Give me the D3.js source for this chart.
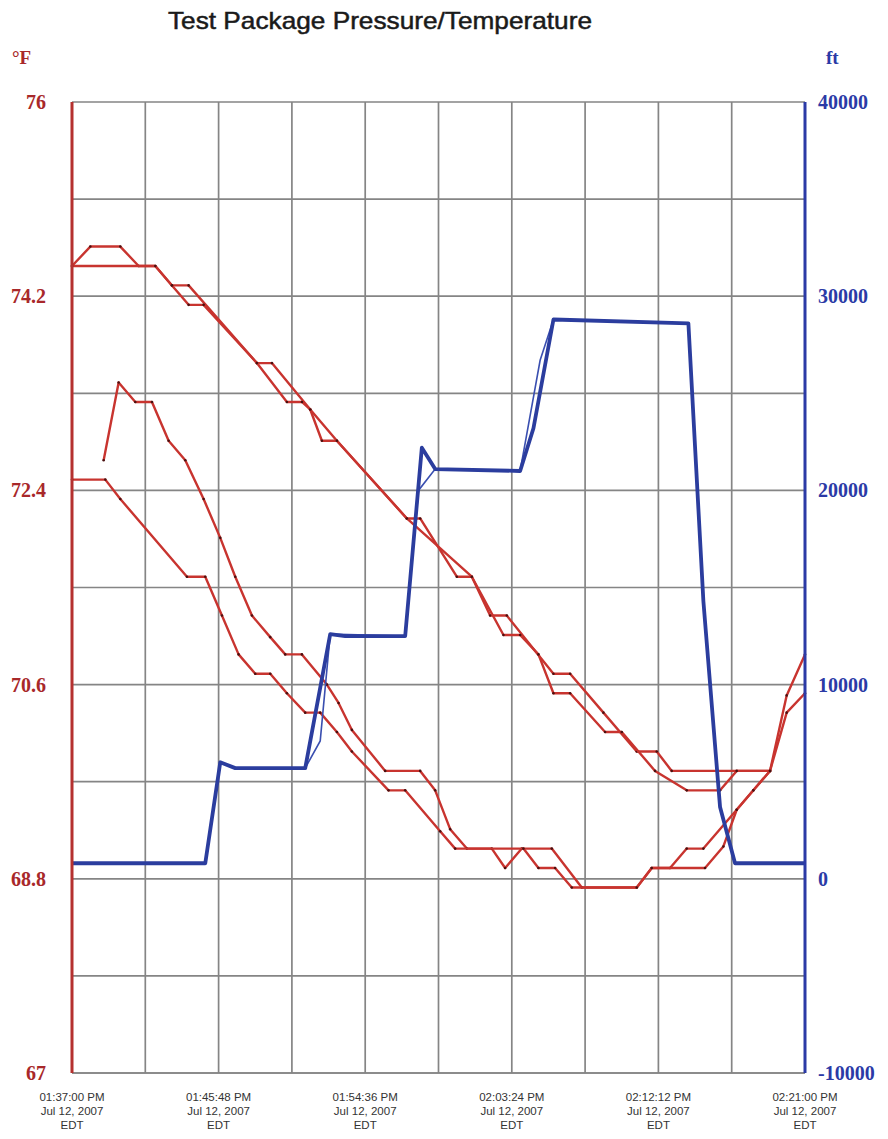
<!DOCTYPE html>
<html>
<head>
<meta charset="utf-8">
<script src="https://cdn.jsdelivr.net/npm/d3@7"></script>
<style>
  body { margin: 0; background: #fff; }
  svg { display: block; }
</style>
</head>
<body>
<svg width="888" height="1139"></svg>
<script>
// time is minutes after 01:37:00 PM, temperatures in °F, altitude in ft
const tempA = [[0,74.48],[1.1,74.66],[2.9,74.66],[4.0,74.48],[5.0,74.48],[6.0,74.30],[7.0,74.30],[11.1,73.58],[12.0,73.58],[14.3,73.15],[15.9,72.86],[20.1,72.14],[20.9,72.14],[23.1,71.60],[24.0,71.60],[25.1,71.24],[26.1,71.24],[28.9,70.70],[29.9,70.70],[31.9,70.34],[33.9,69.98],[35.1,69.98],[36.0,69.80],[41.9,69.80]];
const tempB = [[0,74.48],[5.0,74.48],[6.0,74.30],[7.0,74.12],[7.9,74.12],[11.1,73.58],[12.9,73.22],[13.8,73.22],[14.3,73.15],[15.0,72.86],[15.9,72.86],[20.1,72.14],[24.0,71.60],[25.9,71.06],[26.9,71.06],[28.0,70.88],[28.9,70.52],[29.9,70.52],[32.0,70.16],[33.0,70.16],[35.0,69.80],[36.9,69.62],[38.9,69.62],[39.9,69.80],[41.9,69.80]];
const tempC = [[1.9,72.68],[2.8,73.40],[3.8,73.22],[4.8,73.22],[5.8,72.86],[6.8,72.68],[7.9,72.32],[8.9,71.96],[9.8,71.60],[10.8,71.24],[11.9,71.04],[12.8,70.88],[13.8,70.88],[15.3,70.60],[16.0,70.43],[16.8,70.18],[18.8,69.80],[20.9,69.80],[21.8,69.62],[22.7,69.26],[23.7,69.08],[25.2,69.08],[26.0,68.90],[27.0,69.08],[28.8,69.08],[30.6,68.72],[33.9,68.72],[34.8,68.90],[35.9,68.90],[36.9,69.08],[37.9,69.08],[39.9,69.44],[40.9,69.62],[41.9,69.80],[42.9,70.50],[44,70.88]];
const tempD = [[0,72.50],[2.0,72.50],[2.9,72.32],[6.9,71.60],[8.0,71.60],[9.0,71.24],[10.0,70.88],[11.0,70.70],[11.9,70.70],[12.9,70.52],[14.0,70.34],[14.9,70.34],[15.9,70.16],[16.8,69.98],[19.0,69.62],[20.0,69.62],[22.1,69.24],[23.0,69.08],[27.1,69.08],[28.0,68.90],[29.0,68.90],[30.0,68.72],[33.9,68.72],[34.8,68.90],[38.0,68.90],[39.1,69.10],[39.9,69.44],[40.9,69.62],[41.9,69.80],[42.9,70.34],[44,70.52]];
const altMain = [[0,800],[8.0,800],[8.9,6000],[9.8,5700],[14.0,5700],[15.5,12600],[16.4,12500],[20.0,12500],[21.0,22200],[21.8,21100],[26.9,21000],[27.7,23200],[28.9,28800],[37.0,28600],[37.9,14300],[38.9,3700],[39.8,800],[44,800]];
const altThin = [[0,800],[8.0,800],[8.9,6000],[9.8,5700],[14.0,5700],[14.9,7100],[15.5,12600],[20.0,12500],[20.8,20000],[21.8,21100],[26.9,21000],[28.1,26700],[28.9,28800],[37.0,28600],[37.9,14300],[38.9,3700],[39.8,800],[44,800]];

const tempTicks = [76, 74.2, 72.4, 70.6, 68.8, 67];
const altTicks = [40000, 30000, 20000, 10000, 0, -10000];
const timeTickMinutes = [0, 8.8, 17.6, 26.4, 35.2, 44];

const start = new Date(2007, 6, 12, 13, 37, 0);
const toDate = m => new Date(start.getTime() + m * 60000);

const margin = {top: 102, right: 83, bottom: 66, left: 72};
const width = 888 - margin.left - margin.right;
const height = 1139 - margin.top - margin.bottom;

const svg = d3.select('svg');
const chart = svg.append('g').attr('transform', `translate(${margin.left},${margin.top})`);

const x = d3.scaleTime().domain([toDate(0), toDate(44)]).range([0, width]);
const yT = d3.scaleLinear().domain([67, 76]).range([height, 0]);
const yA = d3.scaleLinear().domain([-10000, 40000]).range([height, 0]);

// grid: every 4.4 min and every 0.9 °F
const gridX = d3.range(0, 11).map(i => toDate(i * 4.4));
const gridY = d3.range(0, 11).map(i => 67 + i * 0.9);

chart.append('g').selectAll('line').data(gridX).join('line')
  .attr('x1', d => x(d)).attr('x2', d => x(d))
  .attr('y1', 0).attr('y2', height)
  .attr('stroke', '#858585').attr('stroke-width', 1.7);
chart.append('g').selectAll('line').data(gridY).join('line')
  .attr('x1', 0).attr('x2', width)
  .attr('y1', d => yT(d)).attr('y2', d => yT(d))
  .attr('stroke', '#858585').attr('stroke-width', 1.7);

// red temperature lines
const tLine = d3.line().x(d => x(toDate(d[0]))).y(d => yT(d[1]));
[tempA, tempB, tempC, tempD].forEach(s => {
  chart.append('path').datum(s)
    .attr('d', tLine)
    .attr('fill', 'none')
    .attr('stroke', '#c8342f')
    .attr('stroke-width', 2.4)
    .attr('stroke-linejoin', 'round');
  chart.append('g').selectAll('circle').data(s).join('circle')
    .attr('cx', d => x(toDate(d[0])))
    .attr('cy', d => yT(d[1]))
    .attr('r', 1.3)
    .attr('fill', '#4a1010');
});

// blue altitude lines
const aLine = d3.line().x(d => x(toDate(d[0]))).y(d => yA(d[1]));
chart.append('path').datum(altThin)
  .attr('d', aLine).attr('fill', 'none')
  .attr('stroke', '#3a4fb0').attr('stroke-width', 1.6);
chart.append('path').datum(altMain)
  .attr('d', aLine).attr('fill', 'none')
  .attr('stroke', '#2b3d9e').attr('stroke-width', 3.8)
  .attr('stroke-linejoin', 'round');

// axis lines
chart.append('line').attr('x1', 0).attr('x2', width).attr('y1', height).attr('y2', height)
  .attr('stroke', '#858585').attr('stroke-width', 1.7);
chart.append('line').attr('x1', 0).attr('x2', 0).attr('y1', 0).attr('y2', height)
  .attr('stroke', '#b5312f').attr('stroke-width', 3);
chart.append('line').attr('x1', width).attr('x2', width).attr('y1', 0).attr('y2', height)
  .attr('stroke', '#2b3aa6').attr('stroke-width', 3);

// left axis labels
const leftAxis = chart.append('g')
  .call(d3.axisLeft(yT).tickValues(tempTicks).tickSize(0).tickPadding(26).tickFormat(d => String(d)));
leftAxis.select('.domain').remove();
leftAxis.selectAll('text')
  .attr('fill', '#a8282a')
  .style('font-family', '"Liberation Serif", "DejaVu Serif", serif')
  .style('font-weight', 'bold')
  .style('font-size', '20px');

// right axis labels
const rightAxis = chart.append('g').attr('transform', `translate(${width},0)`)
  .call(d3.axisRight(yA).tickValues(altTicks).tickSize(0).tickPadding(13).tickFormat(d => String(d)));
rightAxis.select('.domain').remove();
rightAxis.selectAll('text')
  .attr('fill', '#2b3aa6')
  .style('font-family', '"Liberation Serif", "DejaVu Serif", serif')
  .style('font-weight', 'bold')
  .style('font-size', '20px');

// bottom time labels, three lines each
const fmtTime = d3.timeFormat('%I:%M:%S %p');
const fmtDay = d3.timeFormat('%b %d, %Y');
const bottom = chart.append('g').attr('transform', `translate(0,${height})`);
const tickG = bottom.selectAll('g').data(timeTickMinutes.map(toDate)).join('g')
  .attr('transform', d => `translate(${x(d)},0)`);
tickG.each(function(d) {
  const g = d3.select(this);
  [fmtTime(d), fmtDay(d), 'EDT'].forEach((txt, i) => {
    g.append('text')
      .attr('y', 28 + i * 14)
      .attr('text-anchor', 'middle')
      .attr('fill', '#333')
      .style('font-family', '"Liberation Sans", Arial, sans-serif')
      .style('font-size', '11.5px')
      .text(txt);
  });
});

// unit labels and title
svg.append('text').attr('x', 12).attr('y', 64)
  .attr('fill', '#a8282a')
  .style('font-family', '"Liberation Serif", serif').style('font-weight', 'bold').style('font-size', '19px')
  .text('°F');
svg.append('text').attr('x', 826).attr('y', 64)
  .attr('fill', '#2b3aa6')
  .style('font-family', '"Liberation Serif", serif').style('font-weight', 'bold').style('font-size', '19px')
  .text('ft');
svg.append('text').attr('x', 380).attr('y', 29)
  .attr('text-anchor', 'middle')
  .attr('fill', '#1a1a1a')
  .attr('stroke', '#1a1a1a').attr('stroke-width', 0.5)
  .attr('textLength', 424).attr('lengthAdjust', 'spacingAndGlyphs')
  .style('font-family', '"Liberation Sans", Arial, sans-serif')
  .style('font-size', '24px')
  .text('Test Package Pressure/Temperature');
</script>
</body>
</html>
